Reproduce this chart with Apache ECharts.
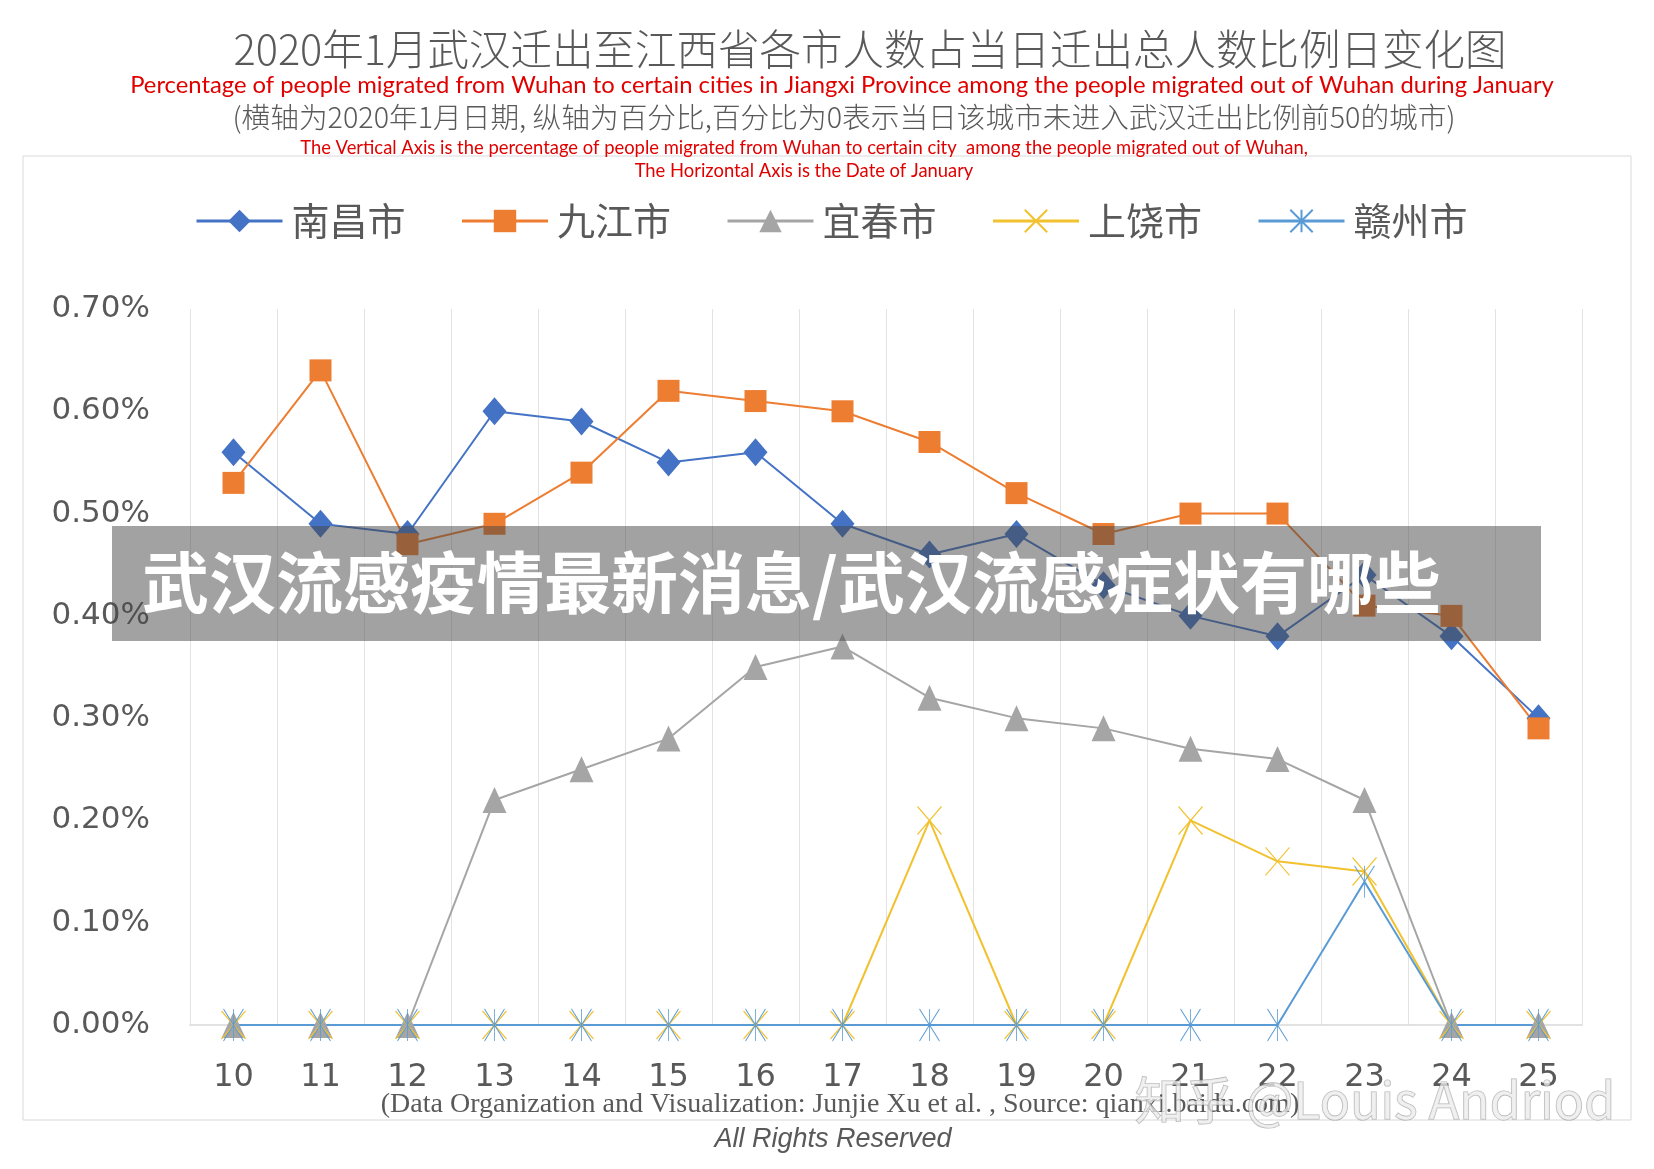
<!DOCTYPE html>
<html><head><meta charset="utf-8">
<script src="https://cdn.jsdelivr.net/npm/echarts@6/dist/echarts.min.js"></script>
<style>html,body{margin:0;padding:0;background:#fff}#c{width:1654px;height:1169px}</style>
</head><body><div id="c"></div>
<script>
const dates = ['10','11','12','13','14','15','16','17','18','19','20','21','22','23','24','25'];
const nanchang = [0.56,0.49,0.48,0.60,0.59,0.55,0.56,0.49,0.46,0.48,0.43,0.40,0.38,0.44,0.38,0.30];
const jiujiang = [0.53,0.64,0.47,0.49,0.54,0.62,0.61,0.60,0.57,0.52,0.48,0.50,0.50,0.41,0.40,0.29];
const yichun   = [0,0,0,0.22,0.25,0.28,0.35,0.37,0.32,0.30,0.29,0.27,0.26,0.22,0,0];
const shangrao = [0,0,0,0,0,0,0,0,0.20,0,0,0.20,0.16,0.15,0,0];
const ganzhou  = [0,0,0,0,0,0,0,0,0,0,0,0,0,0.14,0,0];
const seriesNames = ['南昌市','九江市','宜春市','上饶市','赣州市'];
const yTicks = [0,0.1,0.2,0.3,0.4,0.5,0.6,0.7];

const chart = echarts.init(document.getElementById('c'), null, {renderer:'canvas'});
const gray = '#595959';
const cjk = '"Noto Sans CJK SC", "Noto Sans", sans-serif';
function mk(name, data, color, symbol, size, extra) {
  return Object.assign({
    name, type:'line', data, symbol, symbolSize:size,
    lineStyle:{color, width:2},
    itemStyle:{color, borderColor:color, borderWidth:0},
    emphasis:{disabled:true}
  }, extra||{});
}
const xPath = 'path://M0,0L20,24M20,0L0,24';
const starPath = 'path://M0,0L14,30M14,0L0,30M7,0L7,30';
chart.setOption({
  animation:false,
  backgroundColor:'#fff',
  grid:{left:190, top:309, width:1392, height:716},
  legend:{
    left:190, top:197, itemWidth:86, itemHeight:28, itemGap:55,
    lineStyle:{width:3},
    textStyle:{color:gray, fontSize:38, fontFamily:cjk, padding:[0,0,0,4]},
    data:seriesNames
  },
  xAxis:{
    type:'category', data:dates, boundaryGap:true,
    axisLine:{lineStyle:{color:'#d9d9d9', width:1.5}},
    axisTick:{show:false},
    axisLabel:{color:gray, fontSize:32, fontFamily:'"DejaVu Sans"', margin:37},
    splitLine:{show:true, lineStyle:{color:'#e3e3e3', width:1}}
  },
  yAxis:{
    type:'value', min:0, max:0.7, interval:0.1,
    axisLine:{show:false}, axisTick:{show:false},
    splitLine:{show:false},
    axisLabel:{color:gray, fontSize:31, fontFamily:'"DejaVu Sans"', margin:40,
      formatter:v=>v.toFixed(2)+'%'}
  },
  series:[
    mk(seriesNames[0], nanchang, '#4472C4', 'diamond', [24,28]),
    mk(seriesNames[1], jiujiang, '#ED7D31', 'rect', 22),
    mk(seriesNames[2], yichun, '#A5A5A5', 'triangle', [24,26]),
    mk(seriesNames[3], shangrao, '#F2C12E', xPath, [24,28], {itemStyle:{color:'#F2C12E', borderColor:'#F2C12E', borderWidth:1.2}}),
    mk(seriesNames[4], ganzhou, '#5B9BD5', starPath, [20,32], {itemStyle:{color:'#5B9BD5', borderColor:'#5B9BD5', borderWidth:1}})
  ],
  graphic:[
    {type:'rect', shape:{x:23, y:156, width:1608, height:964}, style:{fill:'none', stroke:'#d9d9d9', lineWidth:1}, z:-10, silent:true},
    {type:'text', x:870, y:49, style:{text:'2020年1月武汉迁出至江西省各市人数占当日迁出总人数比例日变化图', fill:gray, font:'300 41.5px '+cjk, textAlign:'center', textVerticalAlign:'middle'}},
    {type:'text', x:842, y:85, style:{text:'Percentage of people migrated from Wuhan to certain cities in Jiangxi Province among the people migrated out of Wuhan during January', fill:'#E00000', font:'23.8px Lato', textAlign:'center', textVerticalAlign:'middle'}},
    {type:'text', x:844, y:117, style:{text:'(横轴为2020年1月日期, 纵轴为百分比,百分比为0表示当日该城市未进入武汉迁出比例前50的城市)', fill:gray, font:'300 28.7px '+cjk, textAlign:'center', textVerticalAlign:'middle'}},
    {type:'text', x:804, y:148, style:{text:'The Vertical Axis is the percentage of people migrated from Wuhan to certain city  among the people migrated out of Wuhan,', fill:'#E00000', font:'18.4px Lato', textAlign:'center', textVerticalAlign:'middle'}},
    {type:'text', x:804, y:171, style:{text:'The Horizontal Axis is the Date of January', fill:'#E00000', font:'18.4px Lato', textAlign:'center', textVerticalAlign:'middle'}},
    {type:'text', x:840, y:1105, style:{text:'(Data Organization and Visualization: Junjie Xu et al. , Source: qianxi.baidu.com)', fill:gray, font:'28px "Liberation Serif"', textAlign:'center', textVerticalAlign:'middle'}},
    {type:'text', x:833, y:1139, style:{text:'All Rights Reserved', fill:gray, font:'italic 27px "Liberation Sans"', textAlign:'center', textVerticalAlign:'middle'}},
    {type:'text', x:1375, y:1100, z:200, style:{text:'知乎 @Louis Andriod', fill:'rgba(235,235,235,0.75)', stroke:'rgba(120,120,120,0.55)', lineWidth:1.2, font:'50px '+cjk, textAlign:'center', textVerticalAlign:'middle'}},
    {type:'rect', z:100, shape:{x:112, y:526, width:1429, height:115}, style:{fill:'rgba(70,70,70,0.5)'}, silent:true},
    {type:'text', z:101, x:142, y:583, style:{text:'武汉流感疫情最新消息/武汉流感症状有哪些', fill:'#ffffff', font:'bold 67px '+cjk, textAlign:'left', textVerticalAlign:'middle'}}
  ]
});
</script></body></html>
